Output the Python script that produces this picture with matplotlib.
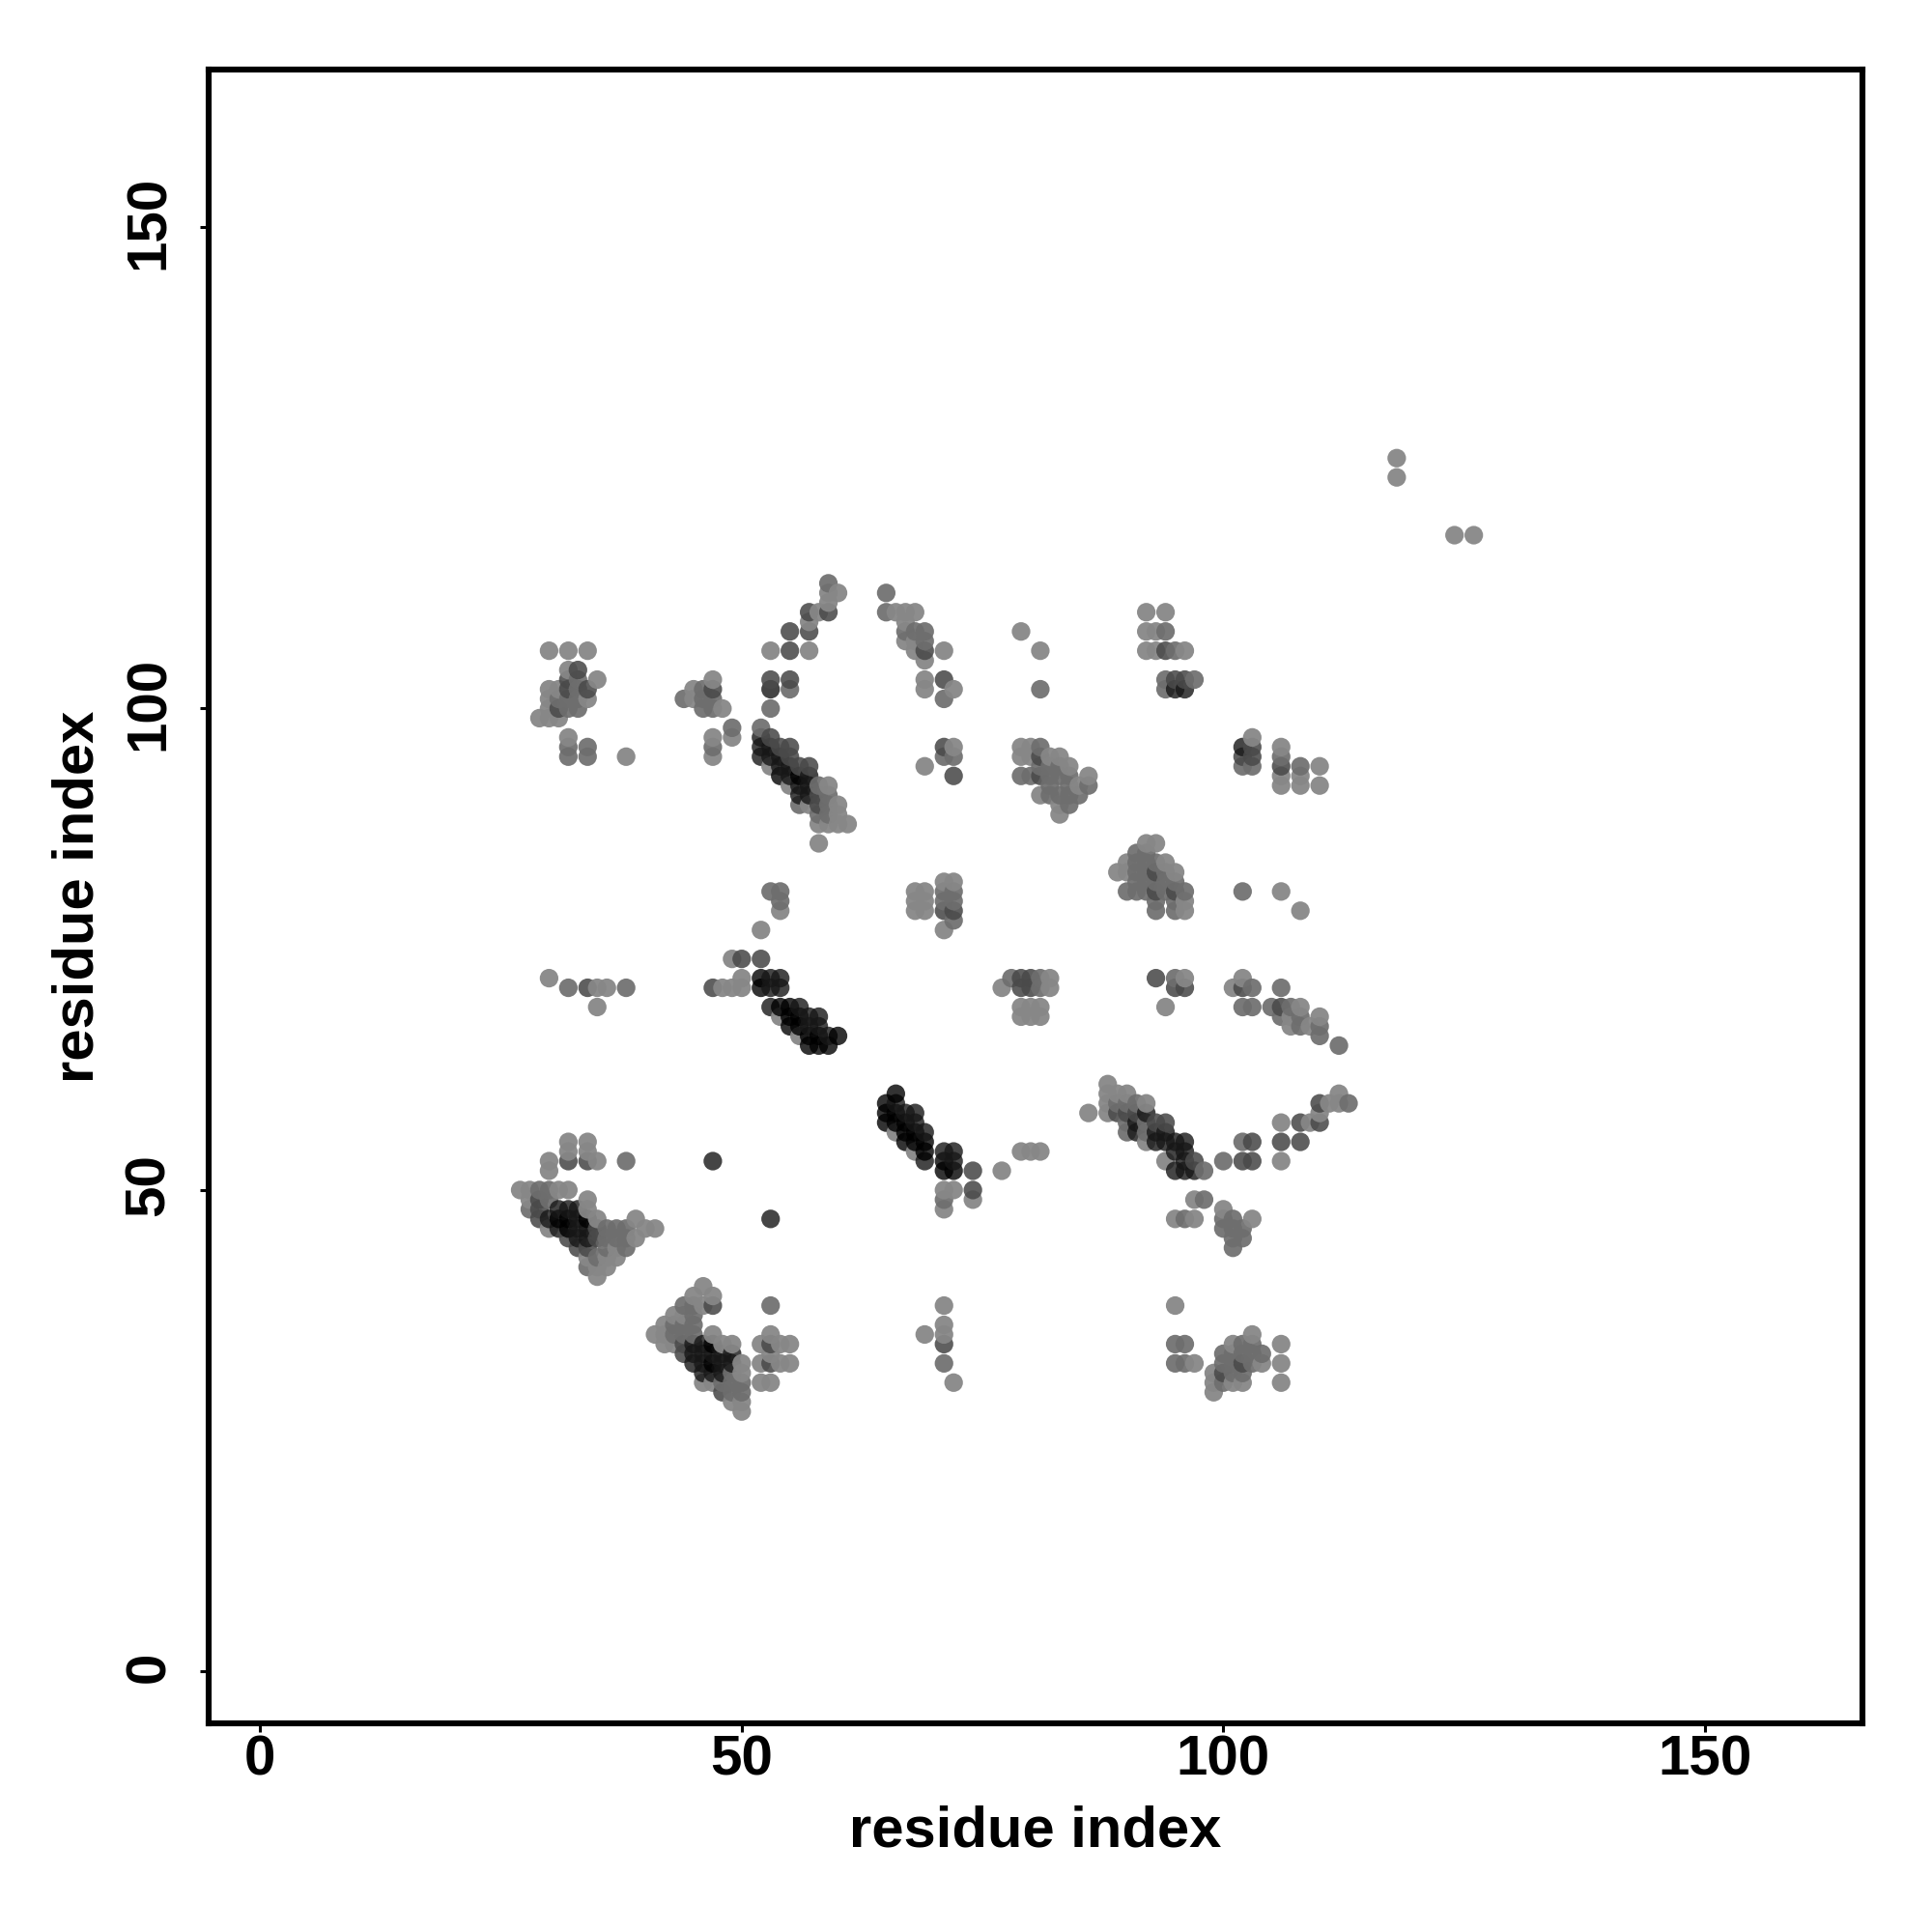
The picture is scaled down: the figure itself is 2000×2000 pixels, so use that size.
import matplotlib
matplotlib.use('Agg')
import matplotlib.pyplot as plt
from matplotlib.transforms import ScaledTranslation
import numpy as np

plt.rcParams['font.family'] = ['Liberation Sans', 'DejaVu Sans']

# contacts grouped by how dark they were in the picture, (residue i, residue j)
light = [
    (32,55),(34,55),(32,54),(34,54),(30,53),(30,52),(35,53),
    (27,50),(28,50),(31,50),(32,50),(28,49),(34,49),(34,48),(35,47),(39,47),(30,46),(41,46),(40,46),
    (35,42),(36,42),(35,41),(34,43),(36,43),(37,43),(37,44),(39,45),
    (46,40),(45,39),(47,39),(46,38),(43,37),(44,37),(42,36),(41,35),(42,35),(47,35),(42,34),(43,34),
    (48,34),(49,34),(50,32),(50,31),(46,30),(47,30),(50,28),(50,27),(49,28),
    (53,35),(52,34),(54,34),(55,34),(53,33),(52,32),(54,32),(55,32),(52,30),(53,30),
    (66,56),(68,54),(71,50),(72,50),(74,49),(71,48),(77,52),(79,54),(80,54),(81,54),
    (71,38),(71,36),(71,35),(72,30),(69,35),(86,58),(88,61),(88,60),(88,59),(88,58),(89,60),(90,60),
    (92,59),(92,55),(94,53),(106,57),(106,53),(109,57),(110,58),(111,59),(112,60),(112,59),
    (97,49),(95,47),(97,47),(100,48),(103,47),(95,38),(97,32),(99,31),(99,30),(99,29),
    (101,34),(103,35),(104,32),(106,34),(106,32),(106,30),(101,30),(102,30),
    (30,72),(35,71),(36,71),(35,69),(48,71),(49,71),(50,71),(50,72),(49,74),(52,77),(54,68),(56,66),
    (54,79),(68,81),(69,81),(68,80),(69,80),(68,79),(69,79),(71,82),(72,82),(71,77),
    (77,71),(82,72),(82,71),(79,69),(80,69),(81,69),(79,68),(80,68),(81,68),
    (89,83),(90,84),(90,83),(92,86),(93,86),(94,84),(95,83),(96,80),(96,79),(106,81),(108,79),
    (96,72),(94,69),(101,71),(102,72),(108,69),(107,68),(110,68),(109,67),(107,67),
    (53,94),(55,92),(58,88),(58,86),(59,92),(59,88),(60,90),(60,89),(60,88),(61,88),(57,90),
    (72,96),(69,94),(79,96),(80,96),(79,95),(80,95),(82,95),(83,95),(84,94),(85,92),(86,93),(83,89),(81,91),(83,90),
    (103,97),(106,96),(106,93),(108,93),(110,94),(110,92),(106,92),(108,92),
    (30,106),(32,106),(34,106),(32,104),(35,103),(30,102),(31,102),(30,101),(34,101),(30,100),(29,99),(30,99),(31,99),
    (32,97),(38,95),(45,102),(45,101),(47,103),(48,100),(49,97),(47,97),(47,95),
    (53,106),(57,106),(57,109),(58,110),(59,111),(59,112),(60,112),
    (66,110),(67,110),(68,110),(67,109),(67,107),(68,107),(68,106),(71,106),(69,103),(69,102),(72,102),(69,105),
    (79,108),(81,106),(92,110),(94,110),(92,108),(93,108),(92,106),(93,106),(96,106),
    (118,126),(118,124),(124,118),(126,118),
]
mid = [
    (38,53),(29,50),(30,50),(28,48),(30,49),(38,46),(36,46),(36,45),(37,45),(38,45),(38,44),(35,43),(34,42),
    (36,44),(37,46),(44,38),(45,38),(45,37),(43,36),(44,36),(45,36),(43,35),(44,35),(45,35),
    (53,38),(48,30),(49,30),(49,31),(50,30),(50,29),(49,29),(71,49),(71,32),(72,78),
    (89,59),(90,59),(90,57),(90,56),(91,59),(92,57),(92,56),(98,52),(100,53),(102,55),(96,47),
    (98,49),(100,47),(100,46),(101,47),(101,46),(101,45),(101,44),(102,46),(102,45),(113,59),
    (95,34),(96,34),(95,32),(96,32),(100,33),(100,32),(100,30),(101,33),(101,32),(101,31),(102,31),(103,33),(103,32),(104,33),
    (102,34),(102,33),(103,34),
    (32,71),(38,71),(53,81),(54,81),(54,80),(78,72),(81,72),(81,71),(71,81),(72,81),(72,80),(71,80),
    (90,81),(91,85),(91,84),(91,83),(91,82),(91,81),(92,85),(92,84),(92,82),(92,81),(93,84),(93,80),(93,79),
    (94,83),(94,82),(95,82),(95,80),(95,79),(96,81),(102,81),(92,83),(93,82),
    (95,72),(94,81),(103,71),(106,71),(102,69),(103,69),(105,69),(107,69),(106,68),(108,68),(108,67),(110,67),(110,66),(112,65),
    (52,98),(53,100),(56,90),(58,89),(59,90),(59,89),(59,91),(58,92),
    (71,95),(72,95),(79,93),(80,93),(81,96),(81,94),(82,94),(82,93),(82,92),(82,91),(83,94),(83,93),(83,91),(84,93),(84,92),(84,91),(84,90),(85,91),(86,92),
    (102,94),(103,94),(106,95),(108,94),
    (32,96),(32,95),(34,96),(34,95),(31,101),(33,101),(32,100),(33,100),(33,102),(33,103),(32,101),
    (44,101),(46,102),(46,101),(46,100),(47,101),(47,100),(49,98),(47,96),(53,100),
    (55,102),(59,113),(65,112),(65,110),(67,108),(68,108),(69,108),(69,107),(71,101),
    (81,102),(94,108),(95,106),(97,103),(94,102),(94,103),
]
dim = [
    (34,71),(47,71),(50,74),(52,74),(74,52),(74,50),(71,34),(102,53),(103,55),(103,53),(106,55),(108,57),(108,55),
    (110,57),(110,59),(106,69),(95,71),(96,71),(102,71),(93,72),(79,72),(80,72),(79,71),(80,71),
    (29,49),(29,48),(29,47),(33,44),(44,34),(44,33),(48,29),
    (100,31),(102,32),(89,58),(90,58),(91,58),(93,57),(94,57),(97,53),(71,79),(72,79),
    (93,83),(93,81),(95,81),(81,95),(81,93),(106,94),(103,96),(103,95),(102,95),
    (53,97),(54,96),(55,96),(55,95),(56,94),(57,94),(58,91),(58,90),(71,96),(72,93),
    (55,108),(57,108),(57,110),(59,110),(55,106),(53,103),(55,103),(69,106),(71,103),(94,106),(95,103),(96,103),
    (33,104),(32,103),(34,102),(32,102),(31,100),(47,102),(47,38),(53,34),(53,32),(32,53),(34,53),
    (35,46),(35,45),(34,44),(32,45),
]
dark = [
    (47,53),(53,47),(31,48),(32,48),(33,48),(30,47),(33,47),(31,46),(33,46),(34,46),
    (33,45),(34,45),
    (45,34),(46,34),(45,33),(46,33),(48,33),(49,33),(45,32),(46,31),(48,32),(49,32),(48,31),
    (47,33),(47,31),(46,32),
    (69,53),(71,54),(72,54),(72,53),(68,58),(66,59),(67,58),(68,57),(69,56),
    (91,57),(91,56),(92,58),(93,56),(93,55),(94,56),(94,55),(95,55),(96,55),(95,54),(96,54),(97,52),(95,52),(96,52),(96,53),
    (53,72),(54,72),(53,71),(54,71),(53,69),(56,69),(57,68),(58,68),(58,67),(57,67),(59,66),
    (52,97),(52,96),(52,95),(53,96),(53,95),(54,95),(54,94),(55,94),(55,93),(57,92),(56,91),(57,91),
    (57,93),(56,92),
    (102,96),(53,102),(95,102),(96,102),
]
black = [
    (31,47),(32,47),(34,47),(32,46),
    (47,34),(47,32),
    (66,60),(65,59),(65,58),(66,58),(65,57),(66,57),(67,57),(67,56),(68,56),(67,55),(68,55),(69,55),(69,54),
    (71,53),(71,52),(72,52),
    (52,72),(52,71),(54,69),(55,69),(55,68),(56,68),(55,67),(56,67),(57,66),(58,66),(60,66),(57,65),(58,65),(59,65),
    (54,93),(56,93),
]

# (points, grey level, alpha)
shades = [(light, 0.53, 0.95), (mid, 0.43, 0.92), (dim, 0.29, 0.88), (dark, 0.09, 0.8), (black, 0.0, 0.8)]
ticks = [0, 50, 100, 150]

# darkest wins when a contact got listed twice, then draw by column like the original
cells = {}
for pts, g, a in shades:
    for p in pts:
        cells[p] = (g, g, g, a)
order = sorted(cells)
xs = np.array([p[0] for p in order])
ys = np.array([p[1] for p in order])
cols = [cells[p] for p in order]

fig = plt.figure(figsize=(10, 10), dpi=200)
ax = fig.add_axes([216 / 2000, 1 - 1784 / 2000, (1928 - 216) / 2000, (1784 - 71.5) / 2000])
ax.scatter(xs, ys, s=48, c=cols, linewidths=0)

ax.set_xlim(-5.34, 166.35)
ax.set_ylim(-5.38, 166.4)
ax.set_xticks(ticks)
ax.set_yticks(ticks)
ax.tick_params(axis='x', length=3.2, width=1.1, labelsize=21, pad=1.0)
ax.tick_params(axis='y', length=3.2, width=1.1, labelsize=21, pad=9)
for lab in ax.get_xticklabels():
    lab.set_fontweight('bold')
# rotated labels sit a little low otherwise
nudge = ScaledTranslation(0, 5 / 200, fig.dpi_scale_trans)
for lab in ax.get_yticklabels():
    lab.set_fontweight('bold')
    lab.set_rotation(90)
    lab.set_va('center')
    lab.set_transform(lab.get_transform() + nudge)
for s in ax.spines.values():
    s.set_linewidth(2.2)

ax.set_xlabel('residue index', fontsize=21.5, fontweight='bold', va='center')
ax.set_ylabel('residue index', fontsize=21.5, fontweight='bold', va='center')
ax.xaxis.set_label_coords(1072 / 2000, 1 - 1896 / 2000, transform=fig.transFigure)
ax.yaxis.set_label_coords(81.5 / 2000, 1 - 928 / 2000, transform=fig.transFigure)

fig.savefig('out.png', dpi=200, facecolor='white')
